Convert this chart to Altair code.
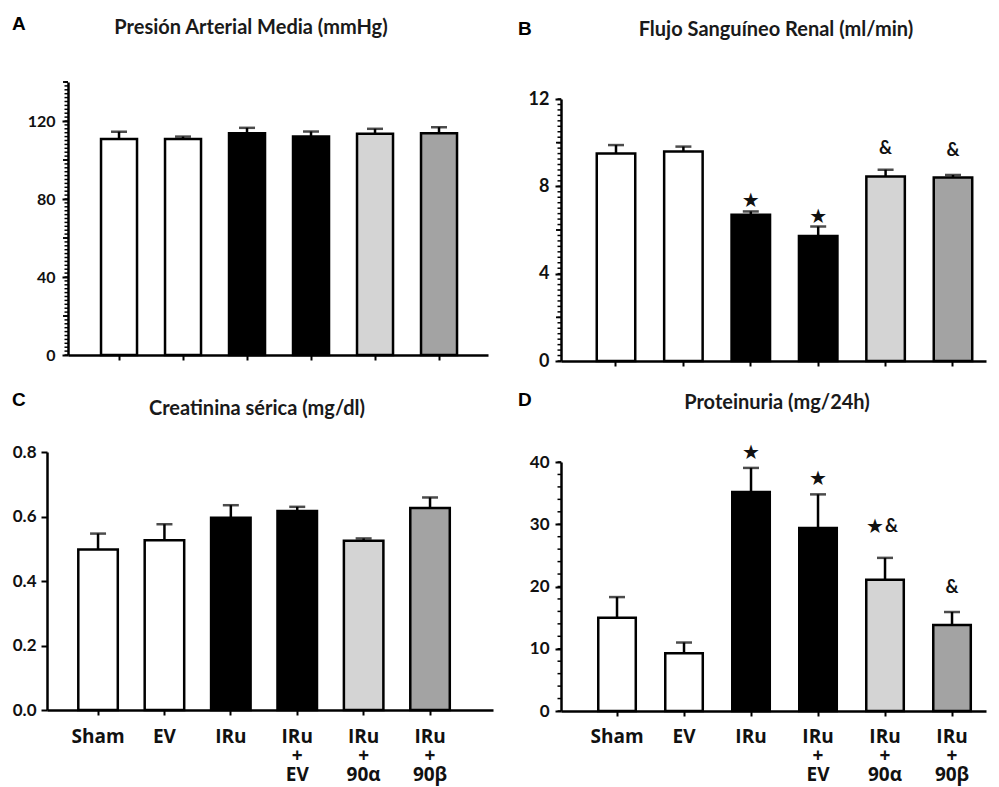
import altair as alt
import numpy as np
import pandas as pd

groups = ["Sham", "EV", "IRu", "IRu + EV", "IRu + 90α", "IRu + 90β"]
colors = ["#ffffff", "#ffffff", "#000000", "#000000", "#d4d4d4", "#a3a3a3"]

# Panel A: Presión Arterial Media
a_vals = [110.8, 110.8, 113.7, 112.0, 113.4, 113.7]
a_errs = [3.7, 1.2, 2.8, 2.6, 2.6, 3.1]
a_star = ["", "", "", "", "", ""]
a_amp = ["", "", "", "", "", ""]
a_ann_y = [0, 0, 0, 0, 0, 0]

# Panel B: Flujo Sanguíneo Renal
b_vals = [9.50, 9.59, 6.70, 5.73, 8.45, 8.41]
b_errs = [0.39, 0.23, 0.15, 0.43, 0.31, 0.11]
b_star = ["", "", "★", "★", "", ""]
b_amp = ["", "", "", "", "&", "&"]
b_ann_y = [0, 0, 7.33, 6.60, 9.70, 9.60]

# Panel C: Creatinina sérica
c_vals = [0.498, 0.526, 0.596, 0.617, 0.525, 0.626]
c_errs = [0.049, 0.050, 0.039, 0.013, 0.007, 0.033]
c_star = ["", "", "", "", "", ""]
c_amp = ["", "", "", "", "", ""]
c_ann_y = [0, 0, 0, 0, 0, 0]

# Panel D: Proteinuria
d_vals = [14.97, 9.26, 35.2, 29.4, 21.1, 13.8]
d_errs = [3.33, 1.74, 3.85, 5.4, 3.5, 2.1]
d_star = ["", "", "★", "★", "★", ""]
d_amp = ["", "", "", "", "&", "&"]
d_ann_y = [0, 0, 41.5, 37.3, 29.6, 19.7]

FONT = "Lato"
XFONT = "Open Sans"
INK = "#111111"
WT, HT = 983, 779


def panel(letter, title, vals, errs, star, amp, ann_y, p):
    df = pd.DataFrame({"g": groups, "v": vals, "e": errs})
    df["u"] = df["v"] + df["e"]
    ann = pd.DataFrame({"g": groups, "s": star, "a": amp, "y": ann_y})
    both = (ann["s"] != "") & (ann["a"] != "")
    s_single = ann[(ann["s"] != "") & ~both]
    a_single = ann[(ann["a"] != "") & ~both]
    pair = ann[both]
    one = pd.DataFrame({"k": [0]})

    x0, x1, yb, yt = p["x0"], p["x1"], p["yb"], p["yt"]
    xs = alt.Scale(domain=groups, range=[x0, x1], paddingInner=p["pi"],
                   paddingOuter=p["po"], align=p["al"])
    ys = alt.Scale(domain=[0, p["ymax"]], range=[yb, yt], nice=False, zero=True)

    if p["xlabels"]:
        xaxis = alt.Axis(orient="bottom", offset=-(HT - yb), title=None, labelAngle=0,
                         labelExpr="split(datum.label, ' ')",
                         labelFont=XFONT, labelFontSize=p["xfs"], labelFontWeight="bold",
                         labelColor=INK, labelLineHeight=19, labelBaseline="top",
                         labelPadding=p["xlp"], tickSize=5, tickWidth=2, tickColor="black",
                         domainColor="black", domainWidth=2.5, grid=False)
    else:
        xaxis = alt.Axis(orient="bottom", offset=-(HT - yb), title=None, labels=False,
                         tickSize=5, tickWidth=2, tickColor="black",
                         domainColor="black", domainWidth=2.5, grid=False)

    yargs = dict(orient="left", offset=-x0, title=None, values=p["major"], grid=False,
                 tickSize=6, tickWidth=2, tickColor="black", domainColor="black",
                 domainWidth=2.5, labelFont=FONT, labelFontSize=p["yfs"],
                 labelFontWeight="bold", labelColor=INK, labelPadding=p["ylp"])
    if "fmt" in p:
        yargs["format"] = p["fmt"]
    yaxis = alt.Axis(**yargs)

    def X():
        return alt.X("g:N", sort=groups, scale=xs, axis=xaxis)

    def Y(f):
        return alt.Y(f, scale=ys, axis=yaxis)

    err = alt.Chart(df).mark_rule(color="black", strokeWidth=2.5).encode(
        x=X(), y=Y("v:Q"), y2="u:Q")
    cap = alt.Chart(df).mark_tick(color="black", size=16, thickness=2.5).encode(
        x=X(), y=Y("u:Q"))
    bars = alt.Chart(df).mark_bar(stroke="black", strokeWidth=2.5).encode(
        x=X(), y=Y("v:Q"),
        fill=alt.Fill("g:N", scale=alt.Scale(domain=groups, range=colors), legend=None))

    layers = [bars, err, cap]

    if len(p["minor"]) > 0:
        mdf = pd.DataFrame({"t": p["minor"]})
        layers.append(alt.Chart(mdf).mark_rule(color="black", strokeWidth=1.5).encode(
            y=Y("t:Q"), x=alt.value(x0 - 3.5), x2=alt.value(x0)))
    if len(p["medium"]) > 0:
        ddf = pd.DataFrame({"t": p["medium"]})
        layers.append(alt.Chart(ddf).mark_rule(color="black", strokeWidth=1.8).encode(
            y=Y("t:Q"), x=alt.value(x0 - 5), x2=alt.value(x0)))

    star_style = dict(font="DejaVu Sans", fontSize=20, color=INK, baseline="middle")
    amp_style = dict(font=FONT, fontWeight="bold", fontSize=18, color=INK, baseline="middle")
    if len(s_single) > 0:
        layers.append(alt.Chart(s_single).mark_text(align="center", **star_style).encode(
            x=X(), y=Y("y:Q"), text="s:N"))
    if len(a_single) > 0:
        layers.append(alt.Chart(a_single).mark_text(align="center", **amp_style).encode(
            x=X(), y=Y("y:Q"), text="a:N"))
    if len(pair) > 0:
        layers.append(alt.Chart(pair).mark_text(align="right", dx=-1, **star_style).encode(
            x=X(), y=Y("y:Q"), text="s:N"))
        layers.append(alt.Chart(pair).mark_text(align="left", dx=0, **amp_style).encode(
            x=X(), y=Y("y:Q"), text="a:N"))

    layers.append(alt.Chart(one).mark_text(text=letter, align="left", baseline="middle",
                                           font="Liberation Sans", fontWeight="bold",
                                           fontSize=19, color="black").encode(
        x=alt.value(p["lx"]), y=alt.value(p["ly"])))
    layers.append(alt.Chart(one).mark_text(text=title, align="center", baseline="middle",
                                           font=FONT, fontWeight="bold", fontSize=p["tfs"],
                                           color="#1a1a1a").encode(
        x=alt.value(p["tx"]), y=alt.value(p["ty"])))

    return alt.layer(*layers)


# positions are in plot coordinates (page pixel minus the 8px margin)
pA = dict(x0=60, x1=480, yb=347, yt=74, pi=0.4375, po=0.5, al=0.516,
          ymax=140, major=[0, 40, 80, 120], minor=list(np.arange(0, 141, 2)),
          medium=[20, 60, 100, 140], yfs=16, ylp=7, xlabels=False,
          lx=4, ly=16, tx=243, ty=20, tfs=20)
pB = dict(x0=553, x1=978, yb=353, yt=91, pi=0.429, po=0.3674, al=0.722,
          ymax=12, major=[0, 4, 8, 12], minor=list(np.arange(0, 12.01, 0.25)),
          medium=[2, 6, 10], yfs=18, ylp=6, xlabels=False,
          lx=510, ly=20.5, tx=768, ty=22, tfs=20)
pC = dict(x0=39, x1=485, yb=702, yt=444, pi=0.405, po=0.561, al=0.42,
          ymax=0.8, major=[0, 0.2, 0.4, 0.6, 0.8], minor=[], medium=[], fmt=".1f",
          yfs=17, ylp=5, xlabels=True, xfs=19, xlp=12,
          lx=4, ly=392, tx=249, ty=401, tfs=20)
pD = dict(x0=553, x1=978, yb=703, yt=454, pi=0.44, po=0.3916, al=0.71,
          ymax=40, major=[0, 10, 20, 30, 40], minor=list(np.arange(0, 41, 2)),
          medium=[], yfs=17, ylp=6, xlabels=True, xfs=19, xlp=11,
          lx=510, ly=392, tx=769, ty=395, tfs=20)

A = panel("A", "Presión Arterial Media (mmHg)", a_vals, a_errs, a_star, a_amp, a_ann_y, pA)
B = panel("B", "Flujo Sanguíneo Renal (ml/min)", b_vals, b_errs, b_star, b_amp, b_ann_y, pB)
C = panel("C", "Creatinina sérica (mg/dl)", c_vals, c_errs, c_star, c_amp, c_ann_y, pC)
D = panel("D", "Proteinuria (mg/24h)", d_vals, d_errs, d_star, d_amp, d_ann_y, pD)

chart = alt.layer(A, B, C, D).resolve_scale(
    x="independent", y="independent"
).resolve_axis(
    x="independent", y="independent"
).properties(
    width=WT, height=HT, padding=0, background="white",
    autosize=alt.AutoSizeParams(type="none"),
).configure_view(strokeWidth=0)

chart.save("out.html", embed_options={"renderer": "svg", "actions": False})
